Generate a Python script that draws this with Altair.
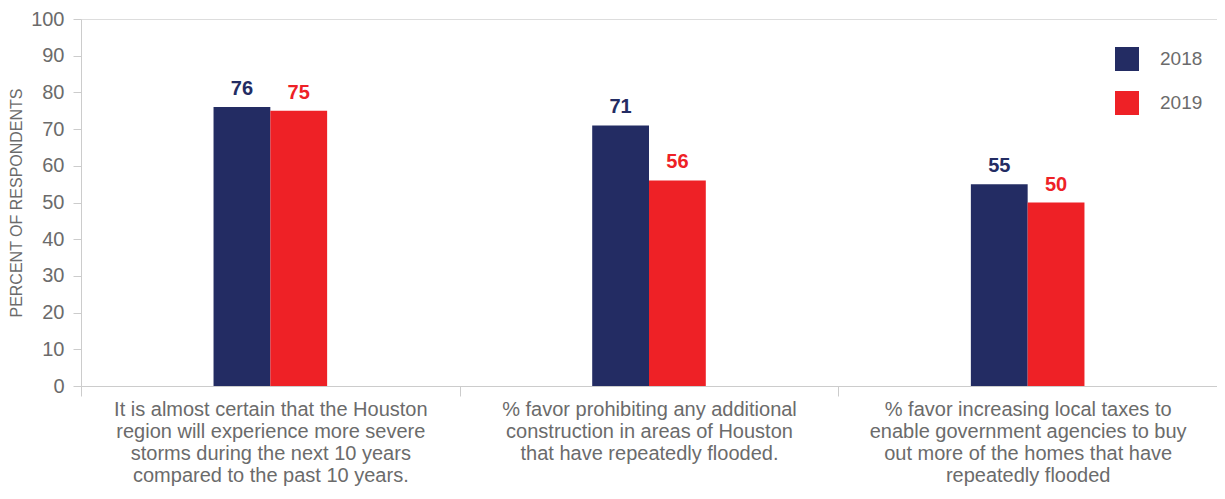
import altair as alt
import pandas as pd

questions = [
    "It is almost certain that the Houston|region will experience more severe|storms during the next 10 years|compared to the past 10 years.",
    "% favor prohibiting any additional|construction in areas of Houston|that have repeatedly flooded.",
    "% favor increasing local taxes to|enable government agencies to buy|out more of the homes that have|repeatedly flooded",
]
years = ["2018", "2019"]
values_2018 = [76, 71, 55]
values_2019 = [75, 56, 50]
colors = ["#232c63", "#ee2126"]
y_ticks = [0, 10, 20, 30, 40, 50, 60, 70, 80, 90, 100]

rows = []
for q, a, b in zip(questions, values_2018, values_2019):
    rows.append({"question": q, "year": "2018", "value": a})
    rows.append({"question": q, "year": "2019", "value": b})
df = pd.DataFrame(rows)

FONT = "Liberation Sans"
GRAY = "#6b6b6b"
LINE = "#cccccc"

# spacer slots so that the pair of bars occupies ~30% of each band
offset_domain = ["_a", "_b"] + years + ["_c", "_d"]

base = alt.Chart(df).encode(
    x=alt.X(
        "question:N",
        sort=questions,
        title=None,
        scale=alt.Scale(paddingInner=0, paddingOuter=0),
        axis=alt.Axis(
            tickBand="extent",
            labelExpr="split(datum.label, '|')",
            labelAngle=0,
            labelAlign="center",
            labelBaseline="top",
            labelFontSize=20,
            labelLineHeight=22,
            labelColor=GRAY,
            labelFont=FONT,
            labelLimit=0,
            labelPadding=3,
            tickSize=10,
            tickColor=LINE,
            domainColor=LINE,
        ),
    ),
    xOffset=alt.XOffset(
        "year:N",
        scale=alt.Scale(domain=offset_domain, paddingOuter=1 / 3, paddingInner=0),
    ),
    y=alt.Y(
        "value:Q",
        title="PERCENT OF RESPONDENTS",
        scale=alt.Scale(domain=[0, 100], nice=False),
        axis=alt.Axis(
            values=y_ticks,
            tickCount=20,
            grid=False,
            labelOverlap=False,
            labelFontSize=20,
            labelColor=GRAY,
            labelFont=FONT,
            labelPadding=9,
            tickSize=8,
            tickColor=LINE,
            domainColor=LINE,
            titleFontSize=16,
            titleFontWeight="normal",
            titleColor=GRAY,
            titleFont=FONT,
            titlePadding=6,
        ),
    ),
)

bars = base.mark_bar().encode(
    color=alt.Color(
        "year:N",
        sort=years,
        scale=alt.Scale(domain=years, range=colors),
        legend=alt.Legend(
            title=None,
            orient="none",
            legendX=1034,
            legendY=28,
            symbolType="square",
            symbolSize=576,
            symbolStrokeWidth=0,
            symbolOpacity=1,
            labelFontSize=19,
            labelColor=GRAY,
            labelFont=FONT,
            labelOffset=21,
            rowPadding=20,
        ),
    ),
)

text = base.mark_text(
    baseline="bottom", dy=-8, fontSize=20, fontWeight="bold", font=FONT
).encode(
    text="value:Q",
    color=alt.Color("year:N", sort=years, legend=None),
)

chart = (
    alt.layer(bars, text)
    .properties(
        width=1136,
        height=367,
        autosize=alt.AutoSizeParams(type="none"),
        padding={"top": 11, "left": 73, "right": 0, "bottom": 105},
    )
    .configure_view(strokeWidth=0, stroke="transparent")
    .configure(background="white")
)

chart.save("out.html", embed_options={"renderer": "svg", "actions": False})
